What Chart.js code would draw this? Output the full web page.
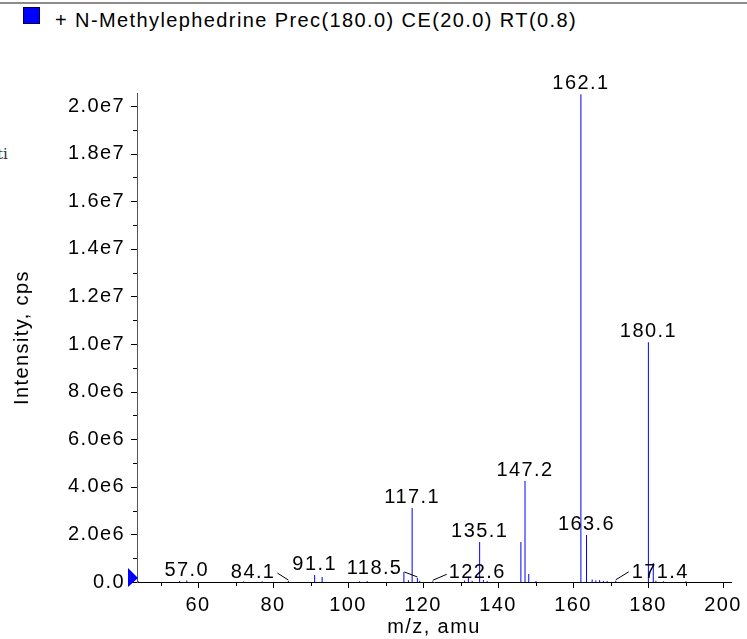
<!DOCTYPE html>
<html>
<head>
<meta charset="utf-8">
<title>N-Methylephedrine MS/MS</title>
<script src="https://cdn.jsdelivr.net/npm/chart.js@4.4.1/dist/chart.umd.min.js"></script>
<style>
  html, body { margin: 0; padding: 0; background: #fff; }
  #wrap { position: relative; width: 747px; height: 639px; overflow: hidden; }
  #topRule { position: absolute; left: 0; top: 2px; width: 747px; height: 2px; background: #8c8c8c; }
  #legendBox { position: absolute; left: 23px; top: 7px; width: 17px; height: 17px; box-sizing: border-box;
               background: #0000ff; border: 1px solid #000044; }
  #legendText { position: absolute; left: 55px; top: 9px; line-height: 20px; white-space: nowrap;
                font: 20px "Liberation Sans", Arial, sans-serif; letter-spacing: 1.4px; color: #000; }
  #clipped { position: absolute; left: -3px; top: 145px; line-height: 15px;
             font: 15px "DejaVu Serif", serif; color: #333; }
  canvas { position: absolute; left: 0; top: 0; }
</style>
</head>
<body>
<div id="wrap">
  <div id="topRule"></div>
  <div id="legendBox"></div>
  <div id="legendText">+ N-Methylephedrine Prec(180.0) CE(20.0) RT(0.8)</div>
  <div id="clipped">ti</div>
  <canvas id="spectrum" width="747" height="639"></canvas>
</div>
<script>
// Peaks (m/z and intensity in cps)
const mzValues = [44.1, 55.1, 57.0, 72.1, 77.1, 84.1, 91.1, 93.1, 103.1, 105.1,
                  114.9, 116.1, 117.1, 118.5, 119.1, 122.6, 131.1, 132.1, 133.1, 135.1,
                  136.1, 137.1, 146.1, 147.2, 148.2, 150.1, 162.1, 163.6, 165.1, 166.1,
                  167.1, 168.1, 169.1, 171.4, 180.1, 181.4, 182.1, 184.1, 190.1];
const intensities = [3e4, 4e4, 6e4, 2e4, 3e4, 4e4, 2.9e5, 2.1e5, 3e4, 4e4,
                     4.2e5, 7e4, 3.11e6, 1.7e5, 5e4, 3e4, 6e4, 2.2e5, 5e4, 1.68e6,
                     8e4, 4e4, 1.68e6, 4.24e6, 3.4e5, 4e4, 2.05e7, 1.97e6, 1e5, 6e4,
                     8e4, 4e4, 4e4, 5e4, 1.008e7, 8e5, 5e4, 3e4, 3e4];

// Annotated peaks
const peakLabels = ["57.0", "84.1", "91.1", "117.1", "118.5", "122.6",
                    "135.1", "147.2", "162.1", "163.6", "171.4", "180.1"];

// Axis ticks
const xTicks = [60, 80, 100, 120, 140, 160, 180, 200];
const yTicks = [0, 2e6, 4e6, 6e6, 8e6, 1e7, 1.2e7, 1.4e7, 1.6e7, 1.8e7, 2e7];

// Labels of small peaks that are set aside with a leader line (pixel offsets)
const leaderStyle = {
    "84.1":  { lx: -11, ly: -8, tx: -13, ty: -3, align: "right" },
    "118.5": { lx: -13, ly: -6, tx: -15, ty: -4, align: "right" },
    "122.6": { lx: 14,  ly: -7, tx: 16,  ty: -3, align: "left" },
    "171.4": { lx: 13,  ly: -9, tx: 16,  ty: -3, align: "left" }
};

const FONT = "\"Liberation Sans\", Arial, sans-serif";
const BLUE = "#0000ff";

// Tick marks, origin marker and peak labels
const spectrumDecor = {
    id: "spectrumDecor",
    beforeDraw(chart) {
        chart.ctx.letterSpacing = "1.4px";
    },
    afterDatasetsDraw(chart) {
        const { ctx, scales: { x, y } } = chart;
        ctx.save();
        ctx.font = "20px " + FONT;
        ctx.fillStyle = "#000";
        ctx.strokeStyle = "#000";
        ctx.lineWidth = 1;
        ctx.textBaseline = "alphabetic";
        peakLabels.forEach(label => {
            const mz = parseFloat(label);
            const i = mzValues.indexOf(mz);
            const px = x.getPixelForValue(mz);
            const py = y.getPixelForValue(intensities[i]);
            const lead = leaderStyle[label];
            if (lead) {
                ctx.beginPath();
                ctx.moveTo(px, py - 1);
                ctx.lineTo(px + lead.lx, py + lead.ly);
                ctx.stroke();
                ctx.textAlign = lead.align;
                ctx.fillText(label, px + lead.tx, py + lead.ty);
            } else {
                ctx.textAlign = "center";
                ctx.fillText(label, px, py - 5);
            }
        });
        ctx.restore();
    },
    afterDraw(chart) {
        const { ctx, scales: { x, y } } = chart;
        const left = x.left;
        const base = y.getPixelForValue(0);
        ctx.save();
        ctx.strokeStyle = "#000";
        ctx.lineWidth = 1;
        // y tick marks, major with labels and minor between
        for (let v = 0; v <= 2e7; v += 1e6) {
            const py = Math.round(y.getPixelForValue(v)) + 0.5;
            const len = yTicks.includes(v) ? 6 : 4;
            ctx.beginPath();
            ctx.moveTo(left - len, py);
            ctx.lineTo(left, py);
            ctx.stroke();
        }
        // x tick marks every 10
        for (let v = 50; v <= 200; v += 10) {
            const px = Math.round(x.getPixelForValue(v)) + 0.5;
            const len = xTicks.includes(v) ? 6 : 4;
            ctx.beginPath();
            ctx.moveTo(px, base);
            ctx.lineTo(px, base + len);
            ctx.stroke();
        }
        // blue marker at the origin
        ctx.fillStyle = BLUE;
        ctx.beginPath();
        ctx.moveTo(left - 9, base - 14);
        ctx.lineTo(left + 1, base - 4);
        ctx.lineTo(left - 9, base + 5);
        ctx.closePath();
        ctx.fill();
        ctx.restore();
    }
};

Chart.defaults.font.family = FONT;
Chart.defaults.color = "#000";

const ctx = document.getElementById("spectrum").getContext("2d");
new Chart(ctx, {
    type: "bar",
    data: {
        datasets: [{
            label: "+ N-Methylephedrine Prec(180.0) CE(20.0) RT(0.8)",
            data: mzValues.map((mz, i) => ({ x: mz, y: intensities[i] })),
            backgroundColor: BLUE,
            borderWidth: 0,
            inflateAmount: 0,
            barThickness: 1
        }]
    },
    options: {
        responsive: false,
        animation: false,
        devicePixelRatio: 1,
        layout: { padding: { top: 93, right: 16, left: 0, bottom: 0 } },
        plugins: {
            legend: { display: false },
            tooltip: { enabled: false }
        },
        scales: {
            x: {
                type: "linear",
                offset: false,
                min: 43.73,
                max: 202.13,
                grid: { display: false, drawTicks: false, offset: false },
                border: { display: true, color: "#000", width: 1 },
                ticks: { font: { size: 20 }, padding: 11, maxRotation: 0, autoSkip: false },
                afterBuildTicks: s => { s.ticks = xTicks.map(v => ({ value: v })); },
                afterFit: s => { s.height = 57; s.paddingLeft = 0; s.paddingRight = 0; },
                title: { display: true, text: "m/z, amu", font: { size: 20 }, padding: { top: 0, bottom: 0 } }
            },
            y: {
                min: 0,
                max: 2.055e7,
                grid: { display: false, drawTicks: false },
                border: { display: true, color: "#555", width: 1 },
                ticks: {
                    font: { size: 20 },
                    padding: 12,
                    autoSkip: false,
                    callback: v => v === 0 ? "0.0" : v.toExponential(1).replace("+", "")
                },
                afterBuildTicks: s => { s.ticks = yTicks.map(v => ({ value: v })); },
                afterFit: s => { s.width = 137; s.paddingTop = 0; s.paddingBottom = 0; },
                title: { display: true, text: "Intensity, cps", font: { size: 20 }, padding: { top: 10, bottom: 0 } }
            }
        }
    },
    plugins: [spectrumDecor]
});
</script>
</body>
</html>
